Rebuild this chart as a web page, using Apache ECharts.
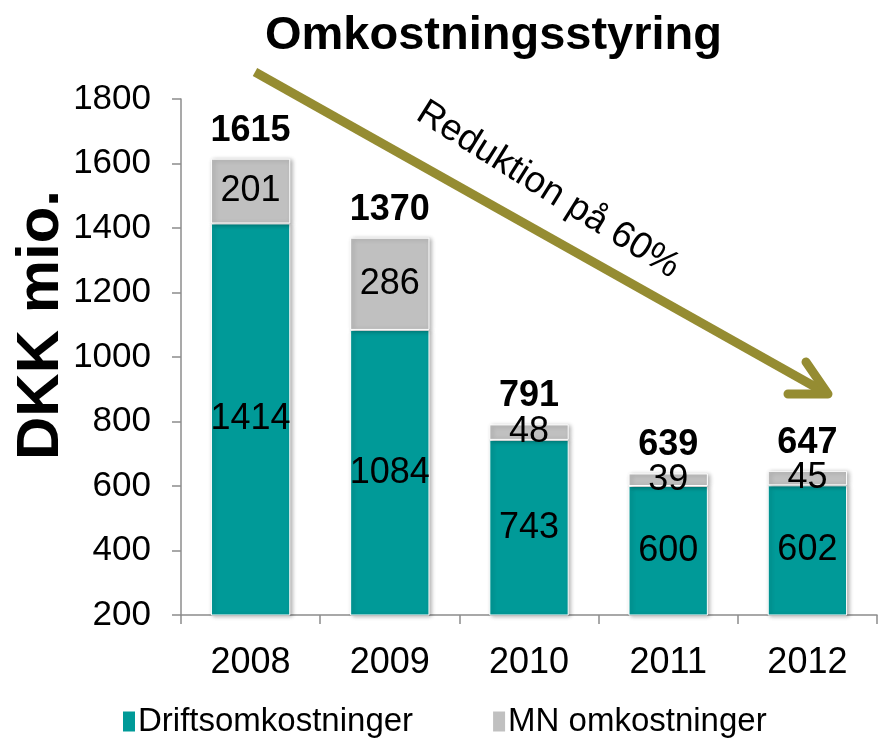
<!DOCTYPE html>
<html>
<head>
<meta charset="utf-8">
<script src="https://cdn.jsdelivr.net/npm/echarts@6/dist/echarts.min.js"></script>
<style>
  html, body { margin: 0; padding: 0; background: #fff; }
  #chart { width: 878px; height: 745px; }
</style>
</head>
<body>
<div id="chart"></div>
<script>
var years = ['2008', '2009', '2010', '2011', '2012'];
var drift = [1414, 1084, 743, 600, 602];   // Driftsomkostninger
var mn = [201, 286, 48, 39, 45];           // MN omkostninger
var totals = [1615, 1370, 791, 639, 647];  // labels above bars
var zeros = [0, 0, 0, 0, 0];

var FONT = '"Liberation Sans", Arial, sans-serif';
var barShadow = {
    borderColor: '#ffffff',
    borderWidth: 1,
    shadowColor: 'rgba(0,0,0,0.3)',
    shadowBlur: 4,
    shadowOffsetX: 2,
    shadowOffsetY: 1
};

var chart = echarts.init(document.getElementById('chart'));

var option = {
    backgroundColor: '#ffffff',
    textStyle: { fontFamily: FONT },
    title: {
        text: 'Omkostningsstyring',
        left: 260,
        top: 8,
        textStyle: { fontFamily: FONT, fontSize: 47, fontWeight: 'bold', color: '#000' }
    },
    legend: {
        data: ['Driftsomkostninger', 'MN omkostninger'],
        left: 116,
        bottom: 2,
        itemWidth: 14,
        itemHeight: 22,
        itemGap: 78,
        icon: 'rect',
        textStyle: { fontFamily: FONT, fontSize: 33, color: '#000', padding: [0, 0, 0, -3] }
    },
    grid: { left: 181, right: 1, top: 99, bottom: 130, containLabel: false, outerBoundsMode: 'none' },
    xAxis: {
        type: 'category',
        data: years,
        axisLine: { lineStyle: { color: '#8c8c8c', width: 1.5 } },
        axisTick: { show: true, length: 9, lineStyle: { color: '#8c8c8c', width: 1.5 } },
        axisLabel: { fontFamily: FONT, fontSize: 36, color: '#000', margin: 30 }
    },
    yAxis: {
        type: 'value',
        min: 200,
        max: 1800,
        interval: 200,
        splitLine: { show: false },
        axisLine: { show: true, lineStyle: { color: '#8c8c8c', width: 1.5 } },
        axisTick: { show: true, length: 9, lineStyle: { color: '#8c8c8c', width: 1.5 } },
        axisLabel: { fontFamily: FONT, fontSize: 35, color: '#000', margin: 30, formatter: function (v) { return String(v); } }
    },
    series: [
        {
            name: 'Driftsomkostninger',
            type: 'bar',
            stack: 'cost',
            barWidth: '57%',
            data: drift,
            itemStyle: Object.assign({ color: '#009a98' }, barShadow),
            label: { show: true, position: 'inside', fontFamily: FONT, fontSize: 36, color: '#000' }
        },
        {
            name: 'MN omkostninger',
            type: 'bar',
            stack: 'cost',
            data: mn,
            itemStyle: Object.assign({ color: '#c0c0c0' }, barShadow),
            label: { show: true, position: 'inside', fontFamily: FONT, fontSize: 36, color: '#000' }
        },
        {
            name: 'Total',
            type: 'bar',
            stack: 'cost',
            data: zeros,
            itemStyle: { color: 'transparent' },
            label: {
                show: true,
                position: 'top',
                distance: 10,
                fontFamily: FONT,
                fontSize: 36,
                fontWeight: 'bold',
                color: '#000',
                formatter: function (p) { return totals[p.dataIndex]; }
            }
        }
    ],
    graphic: [
        {
            // y axis title
            type: 'text',
            x: 41,
            y: 325,
            rotation: Math.PI / 2,
            style: {
                text: 'DKK mio.',
                fontFamily: FONT,
                fontSize: 60,
                fontWeight: 'bold',
                fill: '#000',
                align: 'center',
                verticalAlign: 'middle'
            }
        },
        {
            type: 'polyline',
            shape: { points: [[255, 72], [826, 393]] },
            style: { stroke: '#958c32', lineWidth: 9, lineCap: 'butt' }
        },
        {
            type: 'polyline',
            shape: { points: [[806, 362], [828, 394], [788, 394]] },
            style: { stroke: '#958c32', lineWidth: 9, lineCap: 'round', lineJoin: 'round', fill: null }
        },
        {
            type: 'text',
            x: 548,
            y: 190,
            rotation: -32 * Math.PI / 180,
            style: {
                text: 'Reduktion på 60%',
                fontFamily: FONT,
                fontSize: 37,
                fill: '#000',
                align: 'center',
                verticalAlign: 'middle'
            }
        }
    ]
};

chart.setOption(option);
</script>
</body>
</html>
